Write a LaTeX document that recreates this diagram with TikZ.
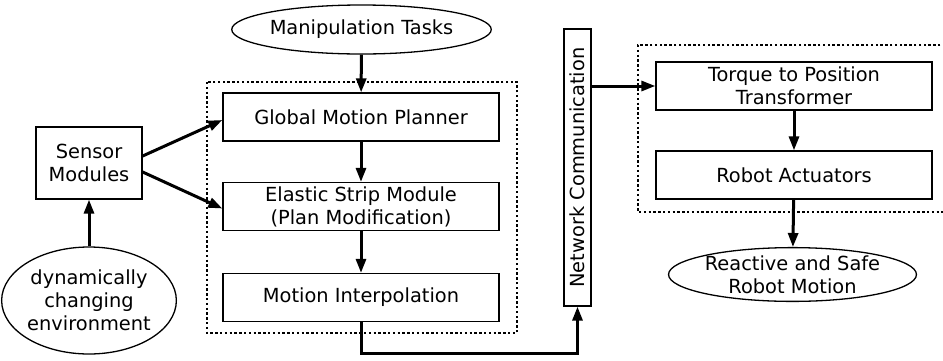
\documentclass[tikz,border=0pt]{standalone}
\usepackage{fontspec}
\setmainfont{DejaVu Sans}
\usetikzlibrary{arrows.meta,shapes.geometric}

\begin{document}
\begin{tikzpicture}[x=0.5pt,y=-0.5pt,
    every node/.style={font=\fontsize{9.7}{11.5}\selectfont, align=center},
    box/.style={draw, line width=0.65pt, minimum width=138pt, minimum height=24pt, inner sep=0pt},
    oval/.style={draw, ellipse, line width=0.65pt, inner sep=0pt},
    flow/.style={-{Triangle[length=7pt,width=5pt]}, line width=1.5pt},
    group/.style={line width=0.65pt, dash pattern=on 1.2pt off 1.2pt}]
      \useasboundingbox (0,0) rectangle (943,360);
      % planner side
      \node[oval, minimum width=122pt, minimum height=24.5pt] (tasks) at (361.5,29.5) {Manipulation Tasks};
      \node[box] (gmp) at (361,117) {Global Motion Planner};
      \node[box] (esm) at (361,206.5) {Elastic Strip Module\\(Plan Modification)};
      \node[box] (interp) at (361,297.5) {Motion Interpolation};
      \node[box, minimum width=53pt, minimum height=36pt] (sensor) at (89,163) {Sensor\\Modules};
      \node[oval, minimum width=84.5pt, minimum height=53.5pt] (env) at (89,300.5) {dynamically\\changing\\environment};
      \draw[group] (207,82) rectangle (517,333);
      % link between the two sides
      \node[draw, line width=0.65pt, minimum width=13.5pt, minimum height=138.5pt, inner sep=0pt] (net) at (577.5,167.5) {\rotatebox{90}{Network Communication}};
      % robot side
      \node[box] (torque) at (794,86) {Torque to Position\\Transformer};
      \node[box] (act) at (794,175) {Robot Actuators};
      \node[oval, minimum width=122.5pt, minimum height=25.5pt] (motion) at (792.5,274.5) {Reactive and Safe\\Robot Motion};
      \draw[group] (950,45) -- (638,45) -- (638,212) -- (950,212);

      \draw[flow] (tasks) -- (gmp);
      \draw[flow] (gmp) -- (esm);
      \draw[flow] (esm) -- (interp);
      \draw[flow] (env) -- (sensor);
      \draw[flow] ([yshift=3.5pt]sensor.east) -- ([yshift=-1.5pt]gmp.west);
      \draw[flow] ([yshift=-4.5pt]sensor.east) -- ([yshift=-1pt]esm.west);
      \draw[flow] (interp.south) -- ++(0,31) -| (net.south);
      \draw[flow] (net.east |- torque.west) -- (torque.west);
      \draw[flow] (torque) -- (act);
      \draw[flow] (act) -- (motion);
    \end{tikzpicture}
\end{document}
